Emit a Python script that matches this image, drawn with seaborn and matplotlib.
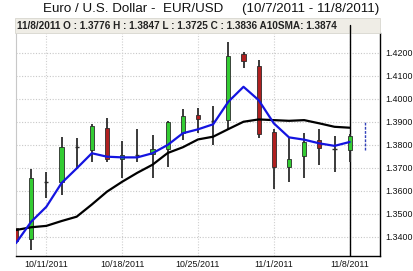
import numpy as np
import pandas as pd
import matplotlib
matplotlib.use("Agg")
import matplotlib.pyplot as plt
from matplotlib.patches import Rectangle
from matplotlib.lines import Line2D
import seaborn as sns

# 交易日与K线数据
dates = ["10/7/2011", "10/10/2011", "10/11/2011", "10/12/2011", "10/13/2011", "10/14/2011",
         "10/17/2011", "10/18/2011", "10/19/2011", "10/20/2011", "10/21/2011",
         "10/24/2011", "10/25/2011", "10/26/2011", "10/27/2011", "10/28/2011",
         "10/31/2011", "11/1/2011", "11/2/2011", "11/3/2011", "11/4/2011",
         "11/7/2011", "11/8/2011"]
opens = [1.3437, 1.3389, 1.3640, 1.3639, 1.3789, 1.3777, 1.3874, 1.3738, 1.3757, 1.3758,
         1.3781, 1.3850, 1.3929, 1.3905, 1.3907, 1.4193, 1.4143, 1.3857, 1.3702, 1.3751,
         1.3820, 1.3782, 1.3776]
highs = [1.3525, 1.3694, 1.3680, 1.3832, 1.3828, 1.3890, 1.3915, 1.3816, 1.3867, 1.3842,
         1.3903, 1.3955, 1.3958, 1.3968, 1.4248, 1.4204, 1.4168, 1.3868, 1.3828, 1.3852,
         1.3867, 1.3838, 1.3847]
lows = [1.3355, 1.3342, 1.3567, 1.3581, 1.3694, 1.3726, 1.3726, 1.3654, 1.3723, 1.3654,
        1.3702, 1.3820, 1.3850, 1.3799, 1.3864, 1.4135, 1.3828, 1.3606, 1.3636, 1.3654,
        1.3712, 1.3683, 1.3725]
closes = [1.3381, 1.3654, 1.3638, 1.3789, 1.3788, 1.3881, 1.3738, 1.3756, 1.3756, 1.3781,
          1.3897, 1.3925, 1.3910, 1.3904, 1.4186, 1.4164, 1.3847, 1.3704, 1.3738, 1.3813,
          1.3784, 1.3781, 1.3836]
# 均线
sma10 = [1.3429, 1.3441, 1.3447, 1.3468, 1.3487, 1.3540, 1.3596, 1.3639, 1.3678, 1.3713,
         1.3764, 1.3789, 1.3823, 1.3835, 1.3868, 1.3900, 1.3910, 1.3907, 1.3904, 1.3907,
         1.3893, 1.3878, 1.3874]
short_ma = [1.3372, 1.3465, 1.3530, 1.3633, 1.3697, 1.3763, 1.3748, 1.3745, 1.3745, 1.3763,
            1.3799, 1.3850, 1.3867, 1.3889, 1.3987, 1.4052, 1.3994, 1.3893, 1.3832, 1.3822,
            1.3806, 1.3795, 1.3812]
# 最右侧蓝色虚线
extra_range = [1.3778, 1.3897]

y_ticks = [1.34, 1.35, 1.36, 1.37, 1.38, 1.39, 1.40, 1.41, 1.42]
label_dates = ["10/11/2011", "10/18/2011", "10/25/2011", "11/1/2011", "11/8/2011"]

title = "Euro / U.S. Dollar -  EUR/USD     (10/7/2011 - 11/8/2011)"
header = "11/8/2011 O : 1.3776 H : 1.3847 L : 1.3725 C : 1.3836 A10SMA: 1.3874"

df = pd.DataFrame({"date": dates, "open": opens, "high": highs, "low": lows,
                   "close": closes, "sma10": sma10, "short": short_ma})
df["idx"] = np.arange(len(df))

sns.set_theme(style="white")
plt.rcParams['font.family'] = ['Liberation Sans', 'DejaVu Sans']

W, H = 413, 271
fig = plt.figure(figsize=(W / 100, H / 100), dpi=100)
ax = fig.add_axes([16 / W, (H - 256) / H, (380 - 16) / W, (256 - 33) / H])

# 网格
for t in y_ticks:
    ax.axhline(t, color="#c8c8c8", lw=0.8, ls=(0, (1, 1.5)), zorder=0)
label_idx = [dates.index(d) for d in label_dates]
for i in label_idx:
    ax.axvline(i, color="#d0d0d0", lw=0.8, ls=(0, (1, 1.5)), zorder=0)

# 十字线
ax.axvline(len(df) - 1, color="black", lw=1.0, zorder=1)

# K线
bw = 0.27
for _, r in df.iterrows():
    ax.vlines(r["idx"], r["low"], r["high"], color="#2b2b2b", lw=1.3, zorder=2)
    lo = min(r["open"], r["close"])
    hgt = abs(r["close"] - r["open"])
    if hgt < 0.0004:
        ax.hlines(r["close"], r["idx"] - bw / 2, r["idx"] + bw / 2, color="#2b2b2b", lw=1.0, zorder=3)
        continue
    fc = "#33cc33" if r["close"] > r["open"] else "#b02020"
    ax.add_patch(Rectangle((r["idx"] - bw / 2, lo), bw, hgt, facecolor=fc,
                           edgecolor="#2b2b2b", lw=0.6, zorder=3))

ax.vlines(len(df), extra_range[0], extra_range[1], color="#3344bb", lw=1.0, ls=(0, (2, 1)), zorder=2)

sns.lineplot(data=df, x="idx", y="sma10", color="black", lw=1.6, ax=ax, zorder=4)
sns.lineplot(data=df, x="idx", y="short", color="#1414e0", lw=1.6, ax=ax, zorder=5)

ax.set_xlim(0, 24)
ax.set_ylim(1.3316, 1.4286)
ax.set_xticks(label_idx)
ax.set_xticklabels(label_dates, fontsize=6.4, color="#111111")
ax.yaxis.tick_right()
ax.set_yticks(y_ticks)
ax.set_yticklabels([f"{t:.4f}" for t in y_ticks], fontsize=6.4, color="#111111")
ax.tick_params(axis="x", length=0, pad=3)
ax.tick_params(axis="y", length=0, pad=4)
ax.set_xlabel("")
ax.set_ylabel("")
ax.spines["top"].set_visible(False)
ax.spines["left"].set_color("#c8c8c8")
ax.spines["left"].set_linewidth(0.8)
ax.spines["bottom"].set_color("black")
ax.spines["bottom"].set_linewidth(1.0)
ax.spines["right"].set_color("black")
ax.spines["right"].set_linewidth(1.0)

# 顶部信息栏
fig.patches.append(Rectangle((15 / W, (H - 33) / H), (380 - 15) / W, 15 / H,
                             transform=fig.transFigure, facecolor="#efede6",
                             edgecolor="#d8d6cf", lw=0.6, zorder=1))
# 十字线穿过信息栏
cx = ax.transData.transform((len(df) - 1, 1.4))[0] / fig.bbox.width
fig.add_artist(Line2D([cx, cx], [(H - 33) / H, (H - 25) / H], transform=fig.transFigure,
                      color="black", lw=1.0, zorder=2))
fig.text(17 / W, (H - 26) / H, header, fontsize=7.2, fontweight="bold",
         color="#222222", va="center", ha="left", zorder=3)
fig.text(211 / W, (H - 9) / H, title, fontsize=9.6, color="#111111",
         va="center", ha="center")

fig.savefig("out.png", dpi=100)
